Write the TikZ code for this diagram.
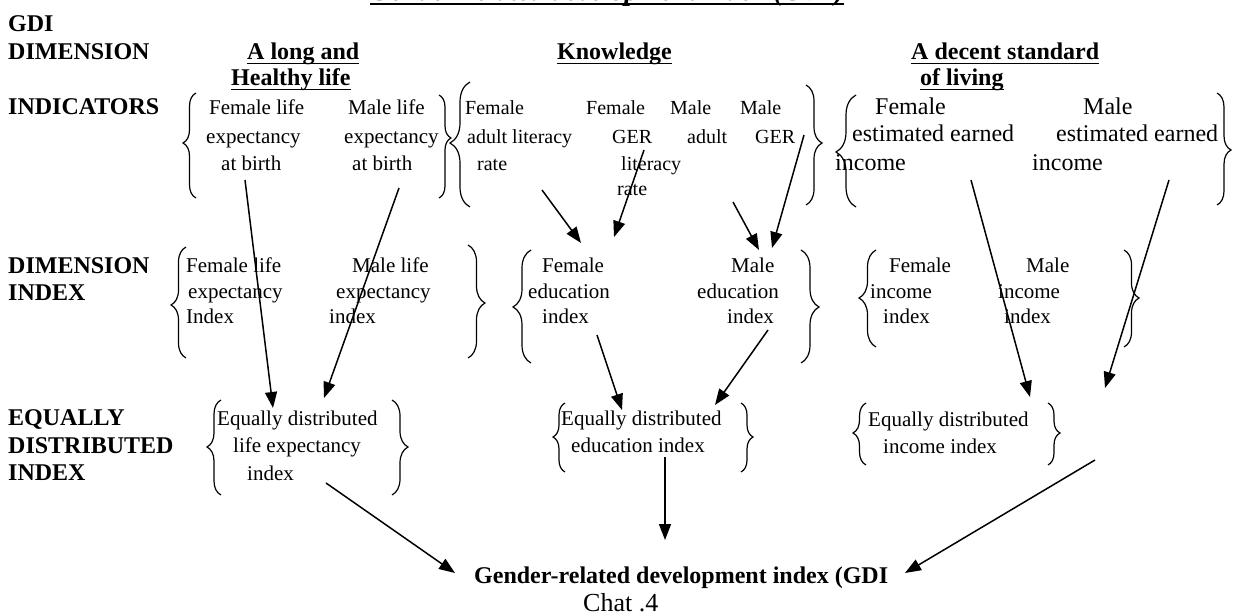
\documentclass[tikz,border=0pt]{standalone}
\usepackage{fontspec}
\setmainfont{Liberation Serif}
\usetikzlibrary{arrows.meta,decorations.pathreplacing}
\newcommand{\LBr}[5]{% xl xr top bottom cusp  -> "{"
  \pgfmathsetmacro\brAsp{(#4-#5)/(#4-#3)}%
  \pgfmathsetmacro\brAmp{#2-#1}%
  \draw[brline, decorate, decoration={brace, amplitude=\brAmp pt, aspect=\brAsp}] (#2,#4) -- (#2,#3);}
\newcommand{\RBr}[5]{% xl xr top bottom cusp  -> "}"
  \pgfmathsetmacro\brAsp{(#5-#3)/(#4-#3)}%
  \pgfmathsetmacro\brAmp{#2-#1}%
  \draw[brline, decorate, decoration={brace, amplitude=\brAmp pt, aspect=\brAsp}] (#1,#3) -- (#1,#4);}
\begin{document}
\begin{tikzpicture}[x=1pt,y=-1pt,
  txt/.style={inner sep=0pt, anchor=base west, font=\fontsize{21}{25}\selectfont},
  txts/.style={inner sep=0pt, anchor=base west, font=\fontsize{20}{24}\selectfont},
  txtl/.style={inner sep=0pt, anchor=base west, font=\fontsize{24}{28}\selectfont},
  lbl/.style={inner sep=0pt, anchor=base west, font=\fontsize{24}{28}\selectfont\bfseries},
  arr/.style={line width=1.5pt, -{Triangle[length=16pt,width=12pt]}},
  ulline/.style={line width=1.8pt},
  brline/.style={line width=1.2pt}]
\useasboundingbox (0,0) rectangle (1233,615);
\clip (0,0) rectangle (1233,615);

% title (cut off at top)
\node[inner sep=0pt, anchor=base west, font=\fontsize{28}{32}\selectfont\bfseries\itshape] (title) at (370,1) {Gender-related development index (GDI)};
\draw[ulline] ([yshift=-3pt]title.base west) -- ([yshift=-3pt]title.base east);

% left labels
\node[lbl] (lgdi) at (8,32) {GDI};
\node[lbl] (ldim) at (8,60) {DIMENSION};
\node[lbl] (lind) at (8,115) {INDICATORS};
\node[lbl] (ldi1) at (8,273) {DIMENSION};
\node[lbl] (ldi2) at (8,300) {INDEX};
\node[lbl] (leq1) at (8,425) {EQUALLY};
\node[lbl] (leq2) at (8,453) {DISTRIBUTED};
\node[lbl] (leq3) at (8,480) {INDEX};

% headers
\node[lbl] (h1a) at (247,60) {A long and};
\node[lbl] (h1b) at (231,86) {Healthy life};
\node[lbl] (h2) at (557,60) {Knowledge};
\node[lbl] (h3a) at (911,60) {A decent standard};
\node[lbl] (h3b) at (920,86) {of living\ };
\foreach \h in {h1a,h1b,h2,h3a,h3b}
  \draw[ulline] ([yshift=-3.5pt]\h.base west) -- ([yshift=-3.5pt]\h.base east);

% indicators group 1
\node[txt] (i1a) at (209,115) {Female life};
\node[txt] (i1b) at (206,143) {expectancy};
\node[txt] (i1c) at (221,170) {at birth};
\node[txt] (i2a) at (348,115) {Male life};
\node[txt] (i2b) at (344,143) {expectancy};
\node[txt] (i2c) at (352,170) {at birth};
% indicators group 2
\node[txts] (k1a) at (465,115) {Female};
\node[txts] (k1b) at (467,143) {adult literacy};
\node[txts] (k1c) at (477,170) {rate};
\node[txts] (k2a) at (586,115) {Female};
\node[txts] (k2b) at (612,143) {GER};
\node[txts] (k3c) at (621,170) {literacy};
\node[txts] (k3d) at (617,195) {rate};
\node[txts] (k3a) at (670,115) {Male};
\node[txts] (k3b) at (687,143) {adult};
\node[txts] (k4a) at (740,115) {Male};
\node[txts] (k4b) at (755,143) {GER};
% indicators group 3
\node[txtl] (s1a) at (875,114) {Female};
\node[txtl] (s1b) at (852,142) {estimated earned};
\node[txtl] (s1c) at (835,170) {income};
\node[txtl] (s2a) at (1083,114) {Male};
\node[txtl] (s2b) at (1056,142) {estimated earned};
\node[txtl] (s2c) at (1032,170) {income};

% dimension index group 1
\node[txt] (d1a) at (186,272) {Female life};
\node[txt] (d1b) at (188,298) {expectancy};
\node[txt] (d1c) at (186,323) {Index};
\node[txt] (d2a) at (352,272) {Male life};
\node[txt] (d2b) at (336,298) {expectancy};
\node[txt] (d2c) at (329,323) {index};
% dimension index group 2
\node[txt] (e1a) at (542,272) {Female};
\node[txt] (e1b) at (528,298) {education};
\node[txt] (e1c) at (542,323) {index};
\node[txt] (e2a) at (731,272) {Male};
\node[txt] (e2b) at (697,298) {education};
\node[txt] (e2c) at (727,323) {index};
% dimension index group 3
\node[txt] (n1a) at (889,272) {Female};
\node[txt] (n1b) at (870,298) {income};
\node[txt] (n1c) at (883,323) {index};
\node[txt] (n2a) at (1026,272) {Male};
\node[txt] (n2b) at (998,298) {income};
\node[txt] (n2c) at (1004,323) {index};

% equally distributed
\node[txt] (q1a) at (217,425) {Equally distributed};
\node[txt] (q1b) at (233,452) {life expectancy};
\node[txt] (q1c) at (247,480) {index};
\node[txt] (q2a) at (561,425) {Equally distributed};
\node[txt] (q2b) at (571,452) {education index};
\node[txt] (q3a) at (868,426) {Equally distributed};
\node[txt] (q3b) at (883,453) {income index};

% result
\node[lbl] (gdi) at (474,583) {Gender-related development index (GDI};
\node[inner sep=0pt, anchor=base west, font=\fontsize{26}{30}\selectfont] (chat) at (583,611) {Chat .4};

% braces: indicators
\LBr{183}{196}{93}{198}{143}
\RBr{439}{451}{95}{198}{138}
\LBr{450}{470}{82}{207}{143}
\RBr{806}{822}{85}{205}{143}
\LBr{836}{856}{95}{207}{152}
\RBr{1217}{1231}{93}{205}{150}
% braces: dimension index
\LBr{171}{186}{247}{358}{305}
\RBr{468}{485}{245}{358}{303}
\LBr{513}{531}{250}{363}{307}
\RBr{801}{819}{250}{363}{307}
\LBr{859}{876}{250}{347}{298}
\RBr{1124}{1139}{250}{347}{298}
% braces: equally distributed
\LBr{207}{221}{400}{495}{447}
\RBr{392}{408}{400}{495}{447}
\LBr{553}{565}{403}{472}{437}
\RBr{741}{753}{403}{472}{437}
\LBr{853}{866}{403}{465}{433}
\RBr{1048}{1060}{403}{465}{433}

% connectors
\coordinate (a1s) at (245,180); \coordinate (a1e) at (273,408);
\coordinate (a2s) at (399,188); \coordinate (a2e) at (324,398);
\coordinate (a3s) at (542,190); \coordinate (a3e) at (581,243);
\coordinate (a4s) at (644,150); \coordinate (a4e) at (614,237);
\coordinate (a5s) at (733,202); \coordinate (a5e) at (759,250);
\coordinate (a6s) at (804,135); \coordinate (a6e) at (772,248);
\coordinate (a7s) at (971,180); \coordinate (a7e) at (1030,397);
\coordinate (a8s) at (1169,180); \coordinate (a8e) at (1105,388);
\coordinate (a9s) at (597,335); \coordinate (a9e) at (622,410);
\coordinate (a10s) at (768,330); \coordinate (a10e) at (715,405);
\coordinate (a11s) at (326,483); \coordinate (a11e) at (455,573);
\coordinate (a12s) at (665,457); \coordinate (a12e) at (665,540);
\coordinate (a13s) at (1095,460); \coordinate (a13e) at (905,573);
\foreach \i in {1,...,13}
  \draw[arr] (a\i s) -- (a\i e);
\end{tikzpicture}
\end{document}
